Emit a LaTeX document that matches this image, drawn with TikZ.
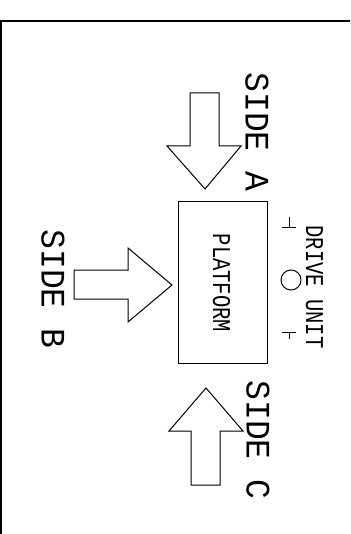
\documentclass[tikz,border=0pt]{standalone}
\usepackage{fontspec}
\setmonofont{Liberation Mono}
\newcommand{\tallside}[1]{\scalebox{1}[1.04]{#1}}
\newcommand{\tallsmall}[1]{\scalebox{1}[1.25]{#1}}
\begin{document}
\begin{tikzpicture}[x=1pt,y=-1pt,
  line width=1pt,
  bigarrow/.style={draw=black, line width=1pt, line join=miter},
  sidelabel/.style={font=\ttfamily\fontsize{33}{33}\selectfont, rotate=-90, inner sep=0pt},
  smalllabel/.style={font=\ttfamily\fontsize{20.5}{21}\selectfont, rotate=-90, inner sep=0pt},
  platbox/.style={draw=black, line width=1pt, minimum width=89pt, minimum height=161pt, inner sep=0pt}]
\useasboundingbox (0,0) rectangle (350,534);
\fill[white] (0,0) rectangle (350,534);
% frame
\draw[line width=2pt] (1,534) -- (1,21) -- (350,21);
% platform
\node[platbox] (plat) at (222.5,282.5) {};
\node[smalllabel] (platlbl) at (221.5,283) {\tallsmall{PLATFORM}};
% side A arrow (down)
\draw[bigarrow] (190,93) -- (219,93) -- (219,146) -- (241,146) -- (205,189) -- (167,146) -- (190,146) -- cycle;
% side B arrow (right)
\draw[bigarrow] (74,270) -- (128,270) -- (128,248) -- (172,285) -- (128,322) -- (128,299) -- (74,299) -- cycle;
% side C arrow (up)
\draw[bigarrow] (191,485) -- (191,431) -- (169,431) -- (206,388) -- (243,431) -- (220,431) -- (220,485) -- cycle;
% labels
\node[sidelabel] (sa) at (257,132) {\tallside{SIDE A}};
\node[sidelabel] (sb) at (53,289) {\tallside{SIDE B}};
\node[sidelabel] (sc) at (258,440) {\tallside{SIDE C}};
\node[smalllabel] (du) at (314.5,287) {\tallsmall{DRIVE UNIT}};
% drive unit symbol
\node[draw=black, circle, line width=1pt, minimum size=20pt, inner sep=0pt] (motor) at (291,280) {};
\coordinate (tp1) at (282,227); \coordinate (tp2) at (296,227);
\coordinate (tv1) at (289,217);
\draw (tp1) -- (tp2); \draw (tv1) -- (tv1 |- tp1);
\coordinate (bp1) at (282,332); \coordinate (bp2) at (296,332);
\coordinate (bv1) at (289,339);
\draw (bp1) -- (bp2); \draw (bv1) -- (bv1 |- bp1);
\end{tikzpicture}
\end{document}
